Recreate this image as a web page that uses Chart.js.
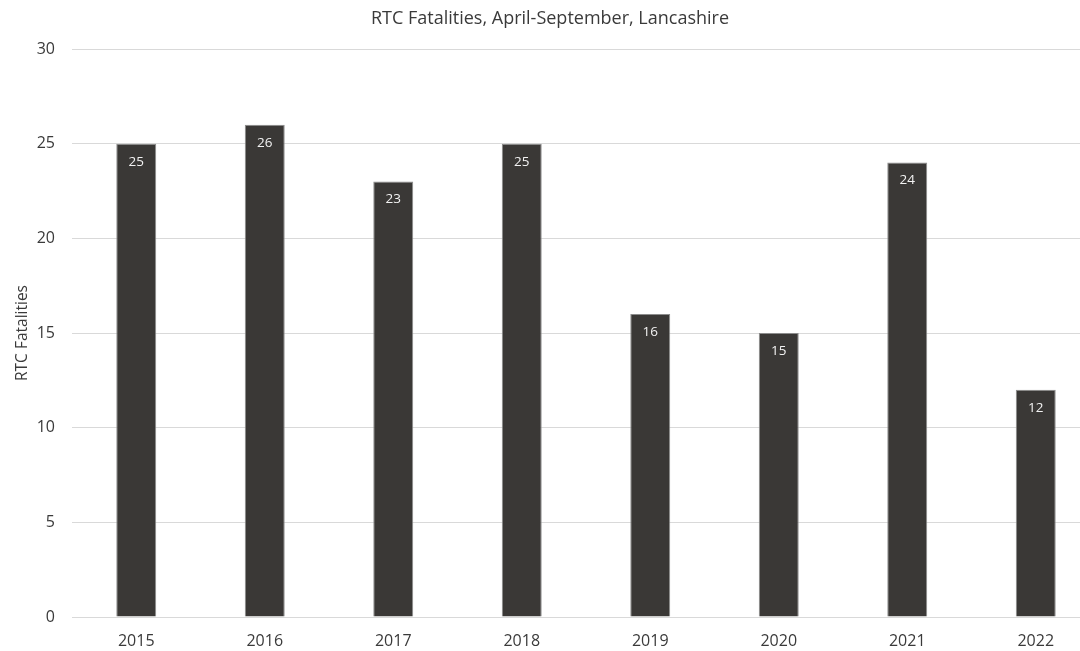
<!DOCTYPE html>
<html>
<head>
<meta charset="utf-8">
<script src="https://cdn.jsdelivr.net/npm/chart.js@4/dist/chart.umd.min.js"></script>
<style>
  html, body { margin: 0; padding: 0; background: #fff; overflow: hidden; }
  #wrap { position: absolute; left: 0; top: 0; }
</style>
</head>
<body>
<div id="wrap"><canvas id="chart" width="1100" height="651"></canvas></div>
<script>
// Data
const years = ['2015', '2016', '2017', '2018', '2019', '2020', '2021', '2022'];
const fatalities = [25, 26, 23, 25, 16, 15, 24, 12];
const yTicks = [0, 5, 10, 15, 20, 25, 30];

const fontFamily = "'Open Sans', 'Noto Sans', sans-serif";
const textColor = '#3a3a3a';

// Value labels inside the top of each bar
const barLabels = {
    id: 'barLabels',
    afterDatasetsDraw(chart) {
        const ctx = chart.ctx;
        const meta = chart.getDatasetMeta(0);
        ctx.save();
        ctx.fillStyle = '#f2f2f2';
        ctx.font = '13.5px ' + fontFamily;
        ctx.textAlign = 'center';
        ctx.textBaseline = 'middle';
        meta.data.forEach((bar, i) => {
            ctx.fillText(String(fatalities[i]), bar.x, bar.y + 18);
        });
        ctx.restore();
    }
};

const ctx = document.getElementById('chart').getContext('2d');
new Chart(ctx, {
    type: 'bar',
    data: {
        labels: years,
        datasets: [{
            data: fatalities,
            backgroundColor: '#3a3836',
            borderColor: '#8c8c8c',
            borderWidth: 1,
            barPercentage: 0.311,
            categoryPercentage: 1
        }]
    },
    options: {
        responsive: false,
        animation: false,
        layout: { padding: { left: 0, right: 0, top: 0, bottom: 0 } },
        plugins: {
            legend: { display: false },
            tooltip: { enabled: false },
            title: {
                display: true,
                text: 'RTC Fatalities, April-September, Lancashire',
                color: textColor,
                font: { family: fontFamily, size: 18, weight: 'normal' },
                padding: { top: 8, bottom: 19.4 }
            }
        },
        scales: {
            x: {
                grid: { display: false },
                border: { display: false },
                ticks: { color: textColor, font: { family: fontFamily, size: 16 }, padding: 7 },
                afterFit(scale) { scale.height = 34; }
            },
            y: {
                min: 0,
                max: 30,
                afterBuildTicks(scale) { scale.ticks = yTicks.map(v => ({ value: v })); },
                grid: { color: '#d9d9d9', lineWidth: 1, drawTicks: false },
                border: { display: false },
                ticks: { color: textColor, font: { family: fontFamily, size: 16 }, padding: 17 },
                title: {
                    display: true,
                    text: 'RTC Fatalities',
                    color: textColor,
                    font: { family: fontFamily, size: 15.5 },
                    padding: { top: 13, bottom: 0 }
                },
                afterFit(scale) { scale.width = 72; }
            }
        }
    },
    plugins: [barLabels]
});
</script>
</body>
</html>
